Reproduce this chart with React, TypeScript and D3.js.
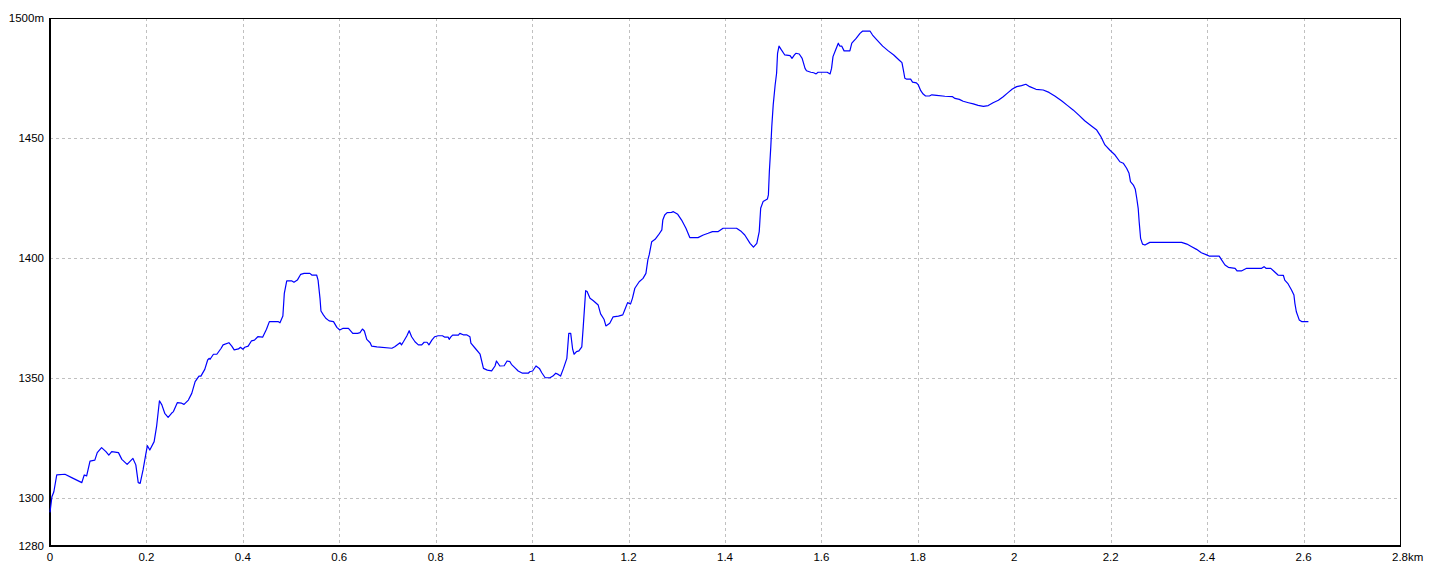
import React from "react";
import * as d3 from "d3";

const distKm: number[] = [
  0.000, 0.001, 0.004, 0.008, 0.014, 0.031, 0.045, 0.066, 0.071, 0.076, 0.083, 0.093, 0.098, 0.107, 0.116, 0.122,
  0.128, 0.142, 0.149, 0.160, 0.172, 0.178, 0.183, 0.187, 0.193, 0.199, 0.202, 0.207, 0.216, 0.221, 0.227, 0.232,
  0.238, 0.245, 0.252, 0.256, 0.264, 0.273, 0.278, 0.287, 0.294, 0.301, 0.309, 0.313, 0.321, 0.327, 0.330, 0.332,
  0.339, 0.346, 0.355, 0.359, 0.371, 0.377, 0.382, 0.391, 0.395, 0.400, 0.404, 0.411, 0.418, 0.424, 0.431, 0.441,
  0.449, 0.455, 0.473, 0.477, 0.483, 0.486, 0.491, 0.501, 0.506, 0.513, 0.520, 0.527, 0.539, 0.543, 0.553, 0.556,
  0.560, 0.562, 0.567, 0.572, 0.579, 0.588, 0.595, 0.601, 0.608, 0.619, 0.628, 0.638, 0.643, 0.648, 0.652, 0.657,
  0.664, 0.667, 0.678, 0.709, 0.715, 0.726, 0.729, 0.733, 0.740, 0.745, 0.750, 0.757, 0.764, 0.771, 0.776, 0.782,
  0.786, 0.792, 0.798, 0.805, 0.814, 0.819, 0.826, 0.828, 0.831, 0.835, 0.847, 0.850, 0.857, 0.864, 0.871, 0.873,
  0.881, 0.892, 0.899, 0.907, 0.916, 0.923, 0.926, 0.933, 0.942, 0.948, 0.954, 0.957, 0.964, 0.971, 0.980, 0.992,
  0.995, 1.001, 1.008, 1.015, 1.020, 1.027, 1.037, 1.043, 1.049, 1.054, 1.059, 1.065, 1.072, 1.076, 1.080, 1.084,
  1.087, 1.092, 1.097, 1.103, 1.106, 1.111, 1.114, 1.120, 1.127, 1.137, 1.142, 1.149, 1.153, 1.161, 1.168, 1.179,
  1.188, 1.192, 1.198, 1.204, 1.208, 1.213, 1.222, 1.230, 1.236, 1.240, 1.243, 1.248, 1.255, 1.262, 1.269, 1.271,
  1.275, 1.280, 1.289, 1.293, 1.302, 1.310, 1.319, 1.327, 1.344, 1.355, 1.365, 1.374, 1.386, 1.396, 1.424, 1.434,
  1.441, 1.452, 1.459, 1.466, 1.471, 1.474, 1.479, 1.488, 1.490, 1.492, 1.495, 1.497, 1.500, 1.504, 1.507, 1.509,
  1.512, 1.517, 1.524, 1.535, 1.539, 1.544, 1.547, 1.554, 1.560, 1.566, 1.569, 1.578, 1.584, 1.589, 1.593, 1.612,
  1.618, 1.621, 1.624, 1.630, 1.635, 1.638, 1.642, 1.647, 1.659, 1.663, 1.672, 1.680, 1.685, 1.701, 1.706, 1.714,
  1.727, 1.738, 1.750, 1.761, 1.767, 1.770, 1.773, 1.777, 1.785, 1.789, 1.797, 1.801, 1.806, 1.811, 1.816, 1.824,
  1.829, 1.839, 1.856, 1.872, 1.877, 1.886, 1.894, 1.905, 1.915, 1.925, 1.936, 1.946, 1.956, 1.967, 1.977, 1.987,
  1.996, 2.005, 2.015, 2.024, 2.032, 2.045, 2.060, 2.072, 2.084, 2.098, 2.110, 2.122, 2.135, 2.146, 2.160, 2.171,
  2.179, 2.188, 2.198, 2.209, 2.219, 2.226, 2.233, 2.238, 2.241, 2.247, 2.251, 2.254, 2.257, 2.259, 2.262, 2.266,
  2.271, 2.281, 2.347, 2.358, 2.368, 2.378, 2.388, 2.399, 2.404, 2.425, 2.430, 2.437, 2.444, 2.458, 2.462, 2.471,
  2.482, 2.513, 2.518, 2.522, 2.532, 2.538, 2.547, 2.558, 2.561, 2.568, 2.575, 2.580, 2.582, 2.585, 2.591, 2.596,
  2.610,
];

const elevM: number[] = [
  1294.0, 1295.7, 1300.5, 1302.6, 1309.6, 1309.9, 1308.5, 1306.4, 1309.6, 1309.2, 1315.4, 1315.8, 1318.9, 1321.0, 1319.3, 1317.9,
  1319.3, 1318.9, 1316.1, 1314.0, 1316.5, 1313.8, 1306.4, 1306.1, 1311.7, 1318.6, 1321.8, 1320.0, 1323.5, 1329.7, 1340.5, 1338.8,
  1335.3, 1333.6, 1335.3, 1336.0, 1339.7, 1339.5, 1339.0, 1340.8, 1343.6, 1348.5, 1350.8, 1350.8, 1353.6, 1357.5, 1358.2, 1357.8,
  1359.9, 1359.9, 1362.4, 1363.8, 1364.7, 1363.3, 1361.7, 1362.1, 1362.8, 1362.0, 1362.8, 1363.3, 1365.5, 1365.8, 1367.2, 1367.0,
  1370.3, 1373.5, 1373.5, 1373.0, 1375.8, 1385.3, 1390.5, 1390.5, 1389.9, 1390.8, 1393.2, 1393.6, 1393.6, 1392.9, 1392.9, 1390.8,
  1383.2, 1377.9, 1376.3, 1374.9, 1373.8, 1373.5, 1371.1, 1370.0, 1370.7, 1370.7, 1368.6, 1368.6, 1368.9, 1370.4, 1369.6, 1366.1,
  1364.7, 1363.3, 1363.0, 1362.4, 1363.0, 1364.7, 1363.8, 1365.1, 1367.5, 1369.7, 1367.2, 1365.1, 1363.8, 1363.8, 1364.9, 1364.9,
  1363.8, 1365.8, 1367.2, 1367.6, 1367.6, 1367.0, 1367.0, 1366.1, 1367.0, 1367.9, 1367.9, 1368.6, 1368.0, 1368.0, 1367.2, 1364.5,
  1362.6, 1359.9, 1354.0, 1353.3, 1353.0, 1355.0, 1357.1, 1355.0, 1355.1, 1357.1, 1356.8, 1355.7, 1354.3, 1352.9, 1352.0, 1352.0,
  1352.6, 1352.9, 1355.0, 1354.0, 1352.2, 1350.1, 1350.1, 1350.8, 1352.0, 1351.5, 1350.8, 1354.0, 1358.2, 1368.6, 1368.6, 1362.0,
  1359.9, 1361.0, 1361.3, 1363.0, 1371.4, 1386.4, 1386.0, 1383.2, 1382.2, 1380.4, 1376.7, 1374.5, 1371.7, 1372.8, 1375.5, 1375.8,
  1376.3, 1378.3, 1381.4, 1380.8, 1383.2, 1387.4, 1390.1, 1391.5, 1393.6, 1399.2, 1401.5, 1406.8, 1407.8, 1409.6, 1411.7, 1415.8,
  1417.9, 1418.9, 1419.0, 1419.3, 1418.2, 1415.8, 1412.4, 1408.5, 1408.5, 1409.6, 1410.3, 1411.0, 1411.0, 1412.4, 1412.4, 1411.0,
  1409.6, 1406.1, 1404.5, 1406.1, 1411.0, 1420.7, 1423.5, 1424.6, 1426.3, 1436.0, 1446.4, 1454.7, 1463.8, 1472.1, 1477.0, 1485.3,
  1488.3, 1486.7, 1484.6, 1484.3, 1483.2, 1484.6, 1485.3, 1485.0, 1483.2, 1479.0, 1478.0, 1477.4, 1477.2, 1476.7, 1477.4, 1477.4,
  1476.7, 1479.0, 1483.9, 1487.0, 1489.5, 1488.3, 1488.3, 1486.3, 1486.3, 1489.5, 1491.5, 1493.6, 1494.5, 1494.5, 1492.9, 1491.1,
  1488.3, 1486.4, 1484.6, 1482.5, 1481.4, 1478.3, 1474.9, 1474.5, 1474.5, 1473.3, 1473.0, 1472.1, 1469.7, 1468.3, 1467.5, 1467.5,
  1468.0, 1467.8, 1467.4, 1467.2, 1466.5, 1466.1, 1465.3, 1464.7, 1464.2, 1463.6, 1463.2, 1463.5, 1464.7, 1465.7, 1467.2, 1468.9,
  1470.4, 1471.4, 1471.8, 1472.4, 1471.4, 1470.3, 1470.0, 1469.0, 1467.5, 1465.5, 1463.6, 1461.7, 1459.3, 1457.2, 1455.0, 1453.3,
  1450.8, 1447.1, 1445.0, 1442.9, 1440.1, 1439.5, 1437.4, 1435.3, 1431.8, 1430.4, 1428.6, 1424.9, 1420.7, 1415.1, 1408.2, 1405.8,
  1405.4, 1406.5, 1406.5, 1405.8, 1404.7, 1403.6, 1402.2, 1401.3, 1400.8, 1400.8, 1399.2, 1397.1, 1396.1, 1395.7, 1394.6, 1394.6,
  1395.7, 1395.7, 1396.4, 1395.7, 1395.7, 1394.6, 1392.9, 1392.8, 1390.8, 1389.2, 1386.7, 1384.6, 1381.1, 1377.6, 1374.2, 1373.5,
  1373.5,
];

const xTicks: number[] = [0, 0.2, 0.4, 0.6, 0.8, 1, 1.2, 1.4, 1.6, 1.8, 2, 2.2, 2.4, 2.6, 2.8];
const yTicks: number[] = [1280, 1300, 1350, 1400, 1450, 1500];
const xUnit = "km";
const yUnit = "m";

const W = 1440;
const H = 576;
const L = 50;
const R = 1400;
const T = 18;
const B = 546;

export default function App() {
  const x = d3.scaleLinear().domain([0, 2.8]).range([L, R]);
  const y = d3.scaleLinear().domain([1280, 1500]).range([B, T]);
  const pts: [number, number][] = distKm.map((d, i) => [d, elevM[i]]);
  const line = d3
    .line<[number, number]>()
    .x((p) => x(p[0]))
    .y((p) => y(p[1]));
  const font = "'Liberation Sans', Arial, sans-serif";
  const lastX = xTicks[xTicks.length - 1];
  const lastY = yTicks[yTicks.length - 1];
  return (
    <svg
      width={W}
      height={H}
      style={{ position: "absolute", left: 0, top: 0, background: "#fff" }}
    >
      <rect x={0} y={0} width={W} height={H} fill="#fff" />
      {/* grid */}
      {xTicks
        .filter((t) => t > 0 && t < lastX)
        .map((t) => (
          <line
            key={"gx" + t}
            x1={Math.round(x(t)) + 0.5}
            x2={Math.round(x(t)) + 0.5}
            y1={T}
            y2={B}
            stroke="#c0c0c0"
            strokeDasharray="3,3"
            strokeWidth={1}
            shapeRendering="crispEdges"
          />
        ))}
      {yTicks
        .filter((t) => t > 1280 && t < lastY)
        .map((t) => (
          <line
            key={"gy" + t}
            x1={L}
            x2={R}
            y1={Math.round(y(t)) + 0.5}
            y2={Math.round(y(t)) + 0.5}
            stroke="#c0c0c0"
            strokeDasharray="3,3"
            strokeWidth={1}
            shapeRendering="crispEdges"
          />
        ))}
      {/* frame */}
      <line x1={L} x2={R} y1={T + 0.5} y2={T + 0.5} stroke="#000" strokeWidth={1} shapeRendering="crispEdges" />
      <line x1={R + 0.5} x2={R + 0.5} y1={T} y2={B} stroke="#000" strokeWidth={1} shapeRendering="crispEdges" />
      <line x1={L} x2={L} y1={T} y2={B + 1} stroke="#000" strokeWidth={2} shapeRendering="crispEdges" />
      <line x1={L} x2={R + 1} y1={B} y2={B} stroke="#000" strokeWidth={2} shapeRendering="crispEdges" />
      {/* profile */}
      <path d={line(pts) || ""} fill="none" stroke="#0000ff" strokeWidth={1.2} strokeLinejoin="round" />
      {/* y labels */}
      {yTicks.map((t) => (
        <text
          key={"ty" + t}
          x={44}
          y={y(t) + 4}
          textAnchor="end"
          fontFamily={font}
          fontSize={11.5}
          fill="#000"
        >
          {t === lastY ? `${t}${yUnit}` : `${t}`}
        </text>
      ))}
      {/* x labels */}
      {xTicks.map((t) => (
        <text
          key={"tx" + t}
          x={x(t)}
          y={561}
          textAnchor="middle"
          fontFamily={font}
          fontSize={11.5}
          fill="#000"
        >
          {d3.format("~g")(t)}
        </text>
      ))}
      <text x={x(lastX) + 8} y={561} textAnchor="start" fontFamily={font} fontSize={11.5} fill="#000">
        {xUnit}
      </text>
    </svg>
  );
}
